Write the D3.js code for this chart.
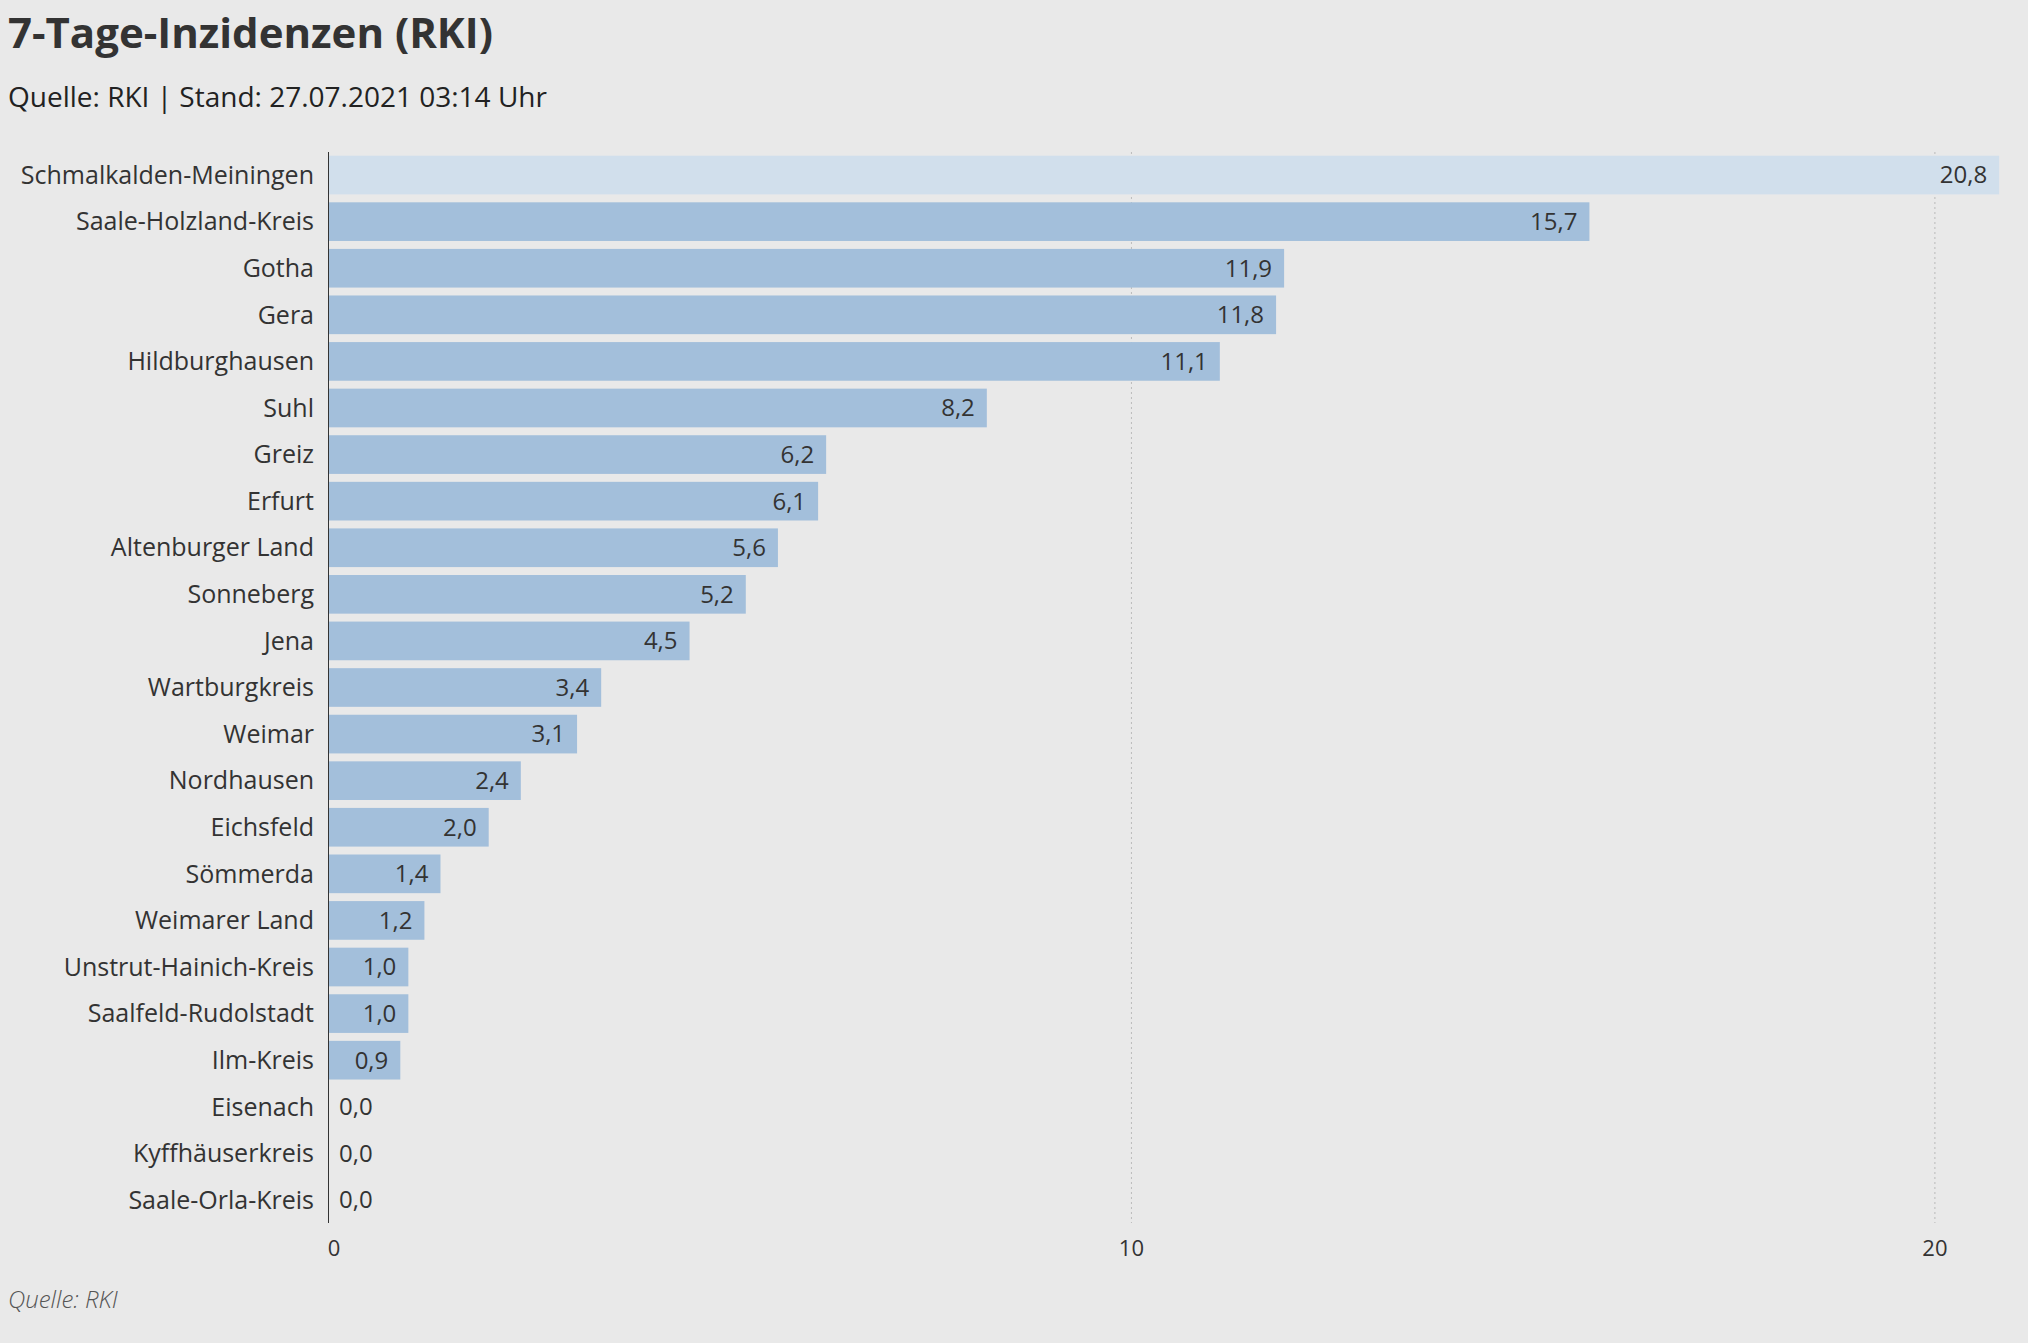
<!DOCTYPE html>
<html><head><meta charset="utf-8">
<script src="https://cdn.jsdelivr.net/npm/d3@7"></script>
<style>
body{margin:0;background:#e9e9e9;font-family:"Open Sans",sans-serif;color:#333}
</style></head><body>
<svg id="chart" width="2028" height="1343"></svg>
<script>
const regions = ["Schmalkalden-Meiningen","Saale-Holzland-Kreis","Gotha","Gera","Hildburghausen","Suhl","Greiz","Erfurt","Altenburger Land","Sonneberg","Jena","Wartburgkreis","Weimar","Nordhausen","Eichsfeld","Sömmerda","Weimarer Land","Unstrut-Hainich-Kreis","Saalfeld-Rudolstadt","Ilm-Kreis","Eisenach","Kyffhäuserkreis","Saale-Orla-Kreis"];
const incidence = [20.8,15.7,11.9,11.8,11.1,8.2,6.2,6.1,5.6,5.2,4.5,3.4,3.1,2.4,2.0,1.4,1.2,1.0,1.0,0.9,0.0,0.0,0.0];
const xTicks = [0,10,20];

const svg = d3.select("#chart");
const mLeft = 328, mRight = 2004, mTop = 152, mBottom = 1223;
const fmt = v => v.toFixed(1).replace(".", ",");

const x = d3.scaleLinear().domain([0, 20.86]).range([mLeft, mRight]);
const y = d3.scaleBand().domain(regions).range([mTop, mBottom]).paddingInner(0.17).paddingOuter(0.08);

svg.append("rect").attr("width", 2028).attr("height", 1343).attr("fill", "#e9e9e9");

svg.append("text").attr("x", 8).attr("y", 48).attr("font-size", 42).attr("font-weight", 700)
	.attr("fill", "#333").text("7-Tage-Inzidenzen (RKI)");
svg.append("text").attr("x", 8).attr("y", 107).attr("font-size", 28)
	.attr("fill", "#222").text("Quelle: RKI | Stand: 27.07.2021 03:14 Uhr");

// grid
svg.selectAll(".grid").data(xTicks.slice(1)).enter().append("line")
	.attr("x1", d => x(d)).attr("x2", d => x(d)).attr("y1", mTop).attr("y2", mBottom)
	.attr("stroke", "#bbb").attr("stroke-dasharray", "2,3");

svg.selectAll(".bar").data(regions).enter().append("rect")
	.attr("x", x(0)).attr("y", d => y(d))
	.attr("width", (d, i) => x(incidence[i]) - x(0))
	.attr("height", y.bandwidth())
	.attr("fill", (d, i) => i === 0 ? "#d1dfec" : "#a3bfdb");

svg.selectAll(".val").data(regions).enter().append("text")
	.attr("x", (d, i) => incidence[i] < 0.5 ? x(0) + 11 : x(incidence[i]) - 12)
	.attr("y", d => y(d) + y.bandwidth() / 2)
	.attr("dy", "0.35em").attr("font-size", 24).attr("fill", "#333")
	.attr("text-anchor", (d, i) => incidence[i] < 0.5 ? "start" : "end")
	.text((d, i) => fmt(incidence[i]));

svg.selectAll(".lab").data(regions).enter().append("text")
	.attr("x", mLeft - 14).attr("y", d => y(d) + y.bandwidth() / 2)
	.attr("dy", "0.35em").attr("font-size", 25).attr("fill", "#333")
	.attr("text-anchor", "end").text(d => d);

svg.append("line").attr("x1", mLeft + 0.5).attr("x2", mLeft + 0.5).attr("y1", mTop).attr("y2", mBottom)
	.attr("stroke", "#333").attr("stroke-width", 1);

svg.selectAll(".tick").data(xTicks).enter().append("text")
	.attr("x", d => x(d) + (d === 0 ? 6 : 0)).attr("y", 1256)
	.attr("font-size", 22).attr("text-anchor", "middle").attr("fill", "#333").text(d => d);

svg.append("text").attr("x", 8).attr("y", 1308).attr("font-size", 24).attr("font-style", "italic")
	.attr("font-weight", 300).attr("fill", "#555").text("Quelle: RKI");
</script>
</body></html>
